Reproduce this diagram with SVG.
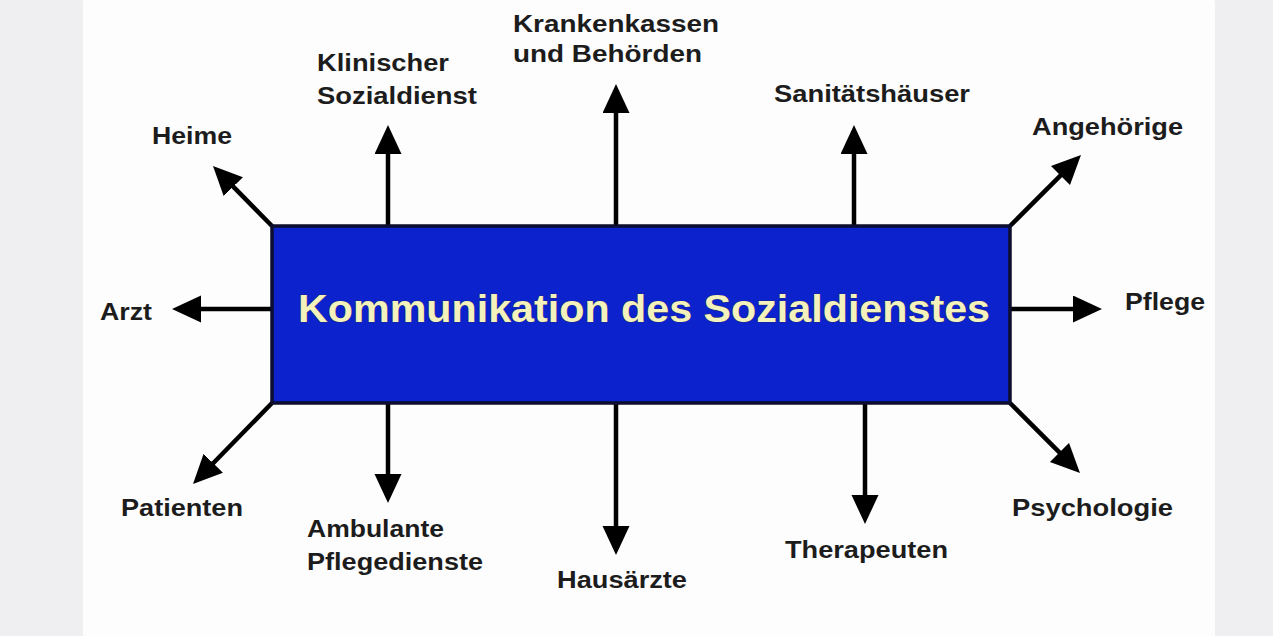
<svg xmlns="http://www.w3.org/2000/svg" width="1273" height="636" viewBox="0 0 1273 636">
  <defs>
    <style>
      .lbl { font-family: "Liberation Sans", Arial, sans-serif; font-weight: bold; font-size: 23px; fill: #1c1c1c; }
      .title { font-family: "Liberation Sans", Arial, sans-serif; font-weight: bold; font-size: 38px; fill: #f3f1bc; stroke: #2a2a40; stroke-width: 0.6px; paint-order: stroke; }
      .conn line { stroke: #000; stroke-width: 4.5; marker-end: url(#ah); }
    </style>
    <marker id="ah" markerUnits="userSpaceOnUse" markerWidth="30" markerHeight="28" refX="19" refY="13.5" orient="auto" viewBox="0 0 30 28">
      <path d="M0,0 L29,13.5 L0,27 z" fill="#000"/>
    </marker>
  </defs>

  <rect x="0" y="0" width="1273" height="636" fill="#efeef0"/>
  <rect x="83" y="-8" width="1132" height="660" rx="12" fill="#fdfdfd"/>

  <g id="connectors" class="conn">
    <line x1="272" y1="226" x2="220" y2="173.1"/>
    <line x1="388" y1="226" x2="388" y2="135"/>
    <line x1="616" y1="226" x2="616" y2="94"/>
    <line x1="854" y1="226" x2="854" y2="135"/>
    <line x1="1010" y1="226" x2="1073.9" y2="162.1"/>
    <line x1="272" y1="309" x2="182" y2="309"/>
    <line x1="1010" y1="309" x2="1092" y2="309"/>
    <line x1="272" y1="403" x2="200" y2="476.8"/>
    <line x1="388" y1="403" x2="388" y2="493"/>
    <line x1="616" y1="403" x2="616" y2="545"/>
    <line x1="865" y1="403" x2="865" y2="514"/>
    <line x1="1010" y1="403" x2="1072.9" y2="465.9"/>
  </g>

  <g id="center">
    <rect x="272" y="226" width="738" height="177" fill="#0c22cc" stroke="#0d0d2e" stroke-width="3.5"/>
    <text class="title" x="298" y="322" textLength="692" lengthAdjust="spacingAndGlyphs">Kommunikation des Sozialdienstes</text>
  </g>

  <g id="heime"><text class="lbl" x="152" y="144" textLength="80" lengthAdjust="spacingAndGlyphs">Heime</text></g>
  <g id="klinischer-sozialdienst">
    <text class="lbl" x="317" y="71" textLength="132" lengthAdjust="spacingAndGlyphs">Klinischer</text>
    <text class="lbl" x="317" y="104" textLength="160" lengthAdjust="spacingAndGlyphs">Sozialdienst</text>
  </g>
  <g id="krankenkassen">
    <text class="lbl" x="513" y="32" textLength="206" lengthAdjust="spacingAndGlyphs">Krankenkassen</text>
    <text class="lbl" x="513" y="62" textLength="189" lengthAdjust="spacingAndGlyphs">und Behörden</text>
  </g>
  <g id="sanitaetshaeuser"><text class="lbl" x="774" y="102" textLength="196" lengthAdjust="spacingAndGlyphs">Sanitätshäuser</text></g>
  <g id="angehoerige"><text class="lbl" x="1032" y="135" textLength="151" lengthAdjust="spacingAndGlyphs">Angehörige</text></g>
  <g id="arzt"><text class="lbl" x="100" y="320" textLength="52" lengthAdjust="spacingAndGlyphs">Arzt</text></g>
  <g id="pflege"><text class="lbl" x="1125" y="310" textLength="80" lengthAdjust="spacingAndGlyphs">Pflege</text></g>
  <g id="patienten"><text class="lbl" x="121" y="516" textLength="122" lengthAdjust="spacingAndGlyphs">Patienten</text></g>
  <g id="ambulante-pflegedienste">
    <text class="lbl" x="307" y="537" textLength="137" lengthAdjust="spacingAndGlyphs">Ambulante</text>
    <text class="lbl" x="307" y="570" textLength="176" lengthAdjust="spacingAndGlyphs">Pflegedienste</text>
  </g>
  <g id="hausaerzte"><text class="lbl" x="557" y="588" textLength="130" lengthAdjust="spacingAndGlyphs">Hausärzte</text></g>
  <g id="therapeuten"><text class="lbl" x="785" y="558" textLength="163" lengthAdjust="spacingAndGlyphs">Therapeuten</text></g>
  <g id="psychologie"><text class="lbl" x="1012" y="516" textLength="161" lengthAdjust="spacingAndGlyphs">Psychologie</text></g>
</svg>
